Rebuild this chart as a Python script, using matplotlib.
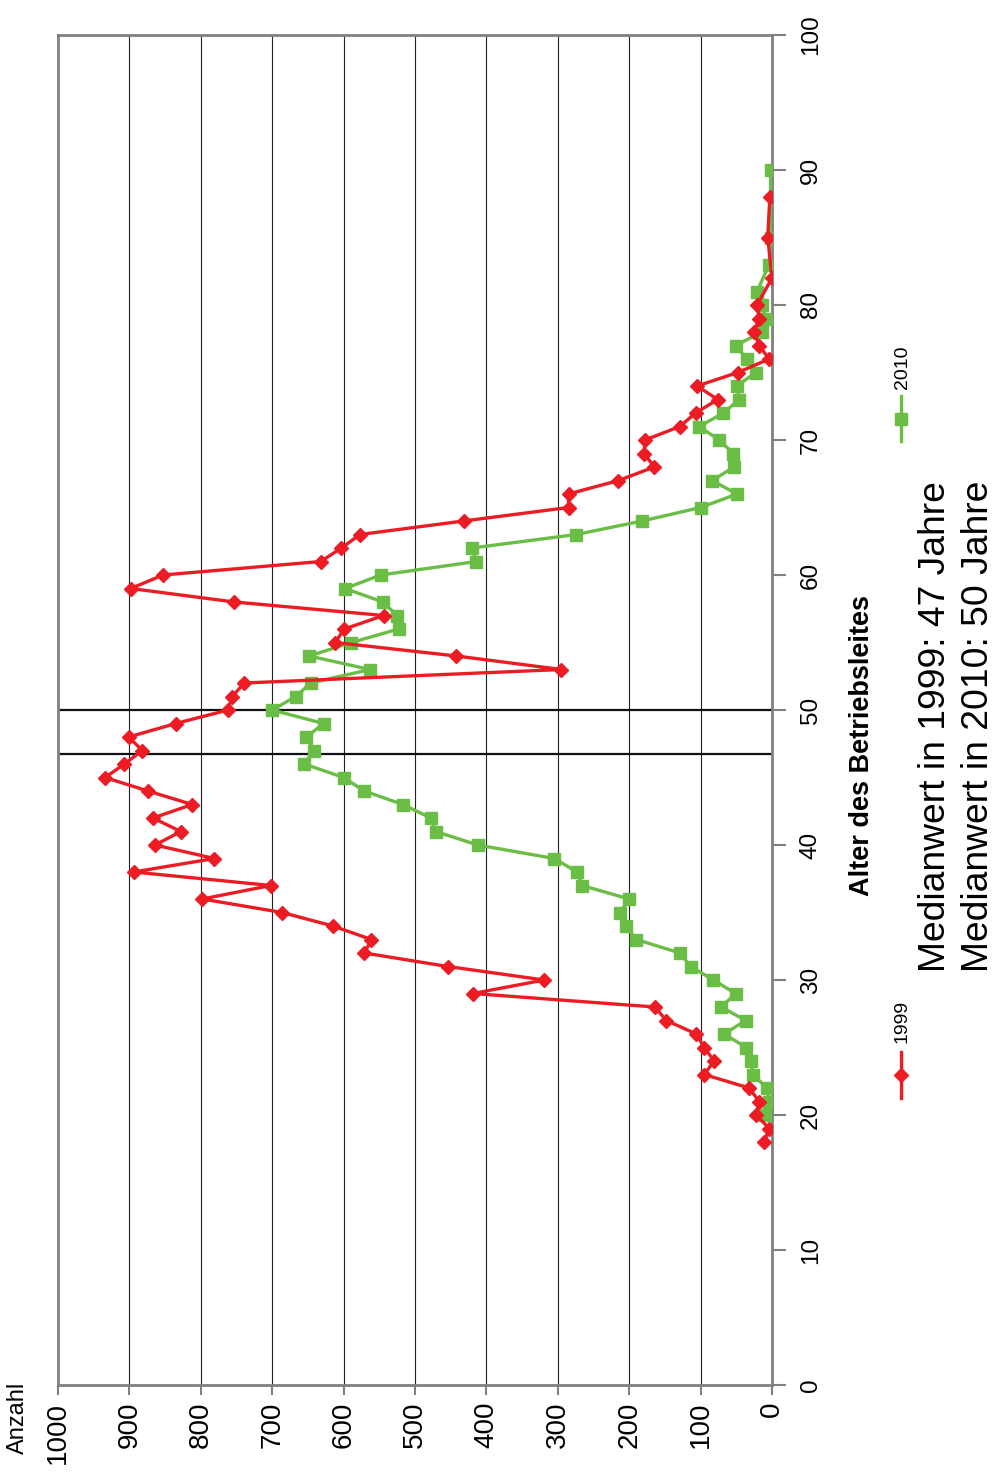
import matplotlib.pyplot as plt
from matplotlib.lines import Line2D

plt.rcParams['font.family'] = ['Liberation Sans', 'DejaVu Sans']

# Alter des Betriebsleiters -> Anzahl
age_1999 = [18, 19, 20, 21, 22, 23, 24, 25, 26, 27, 28, 29, 30, 31, 32, 33, 34, 35,
            36, 37, 38, 39, 40, 41, 42, 43, 44, 45, 46, 47, 48, 49, 50, 51, 52, 53,
            54, 55, 56, 57, 58, 59, 60, 61, 62, 63, 64, 65, 66, 67, 68, 69, 70, 71,
            72, 73, 74, 75, 76, 77, 78, 79, 80, 82, 85, 88]
n_1999 = [11, 4, 22, 18, 32, 95, 81, 95, 106, 148, 164, 419, 319, 454, 571, 561, 615, 686,
          798, 702, 894, 781, 864, 828, 867, 812, 874, 934, 907, 882, 901, 835, 762, 756, 739, 295,
          442, 612, 599, 544, 753, 898, 853, 632, 603, 577, 432, 285, 285, 215, 165, 179, 178, 129,
          107, 76, 105, 48, 4, 18, 25, 18, 21, 0, 6, 3]

age_2010 = [20, 21, 22, 23, 24, 25, 26, 27, 28, 29, 30, 31, 32, 33, 34, 35, 36, 37,
            38, 39, 40, 41, 42, 43, 44, 45, 46, 47, 48, 49, 50, 51, 52, 53, 54, 55,
            56, 57, 58, 59, 60, 61, 62, 63, 64, 65, 66, 67, 68, 69, 70, 71, 72, 73,
            74, 75, 76, 77, 78, 79, 80, 81, 83, 85, 90]
n_2010 = [10, 4, 7, 27, 29, 36, 67, 37, 71, 51, 82, 114, 129, 190, 205, 213, 200, 266,
          273, 305, 412, 471, 478, 517, 571, 600, 655, 641, 652, 628, 700, 667, 646, 563, 648, 589,
          523, 525, 545, 598, 548, 414, 420, 274, 182, 100, 49, 84, 53, 54, 74, 102, 68, 46,
          49, 23, 35, 51, 14, 9, 14, 21, 4, 2, 2]

median_1999 = 46.75
median_2010 = 50

red = '#ED1C24'
green = '#6ABD45'
grey = '#808080'

fig = plt.figure(figsize=(9.97, 14.74), dpi=100)
ax = fig.add_axes([58 / 997, 1 - 1385 / 1474, (772 - 58) / 997, (1385 - 35) / 1474])

ax.set_xlim(1000, 0)
ax.set_ylim(0, 100)

for v in range(100, 1000, 100):
    ax.axvline(v, color='#222222', lw=0.8, zorder=1)

ax.axhline(median_1999, color='#111111', lw=1.6, zorder=2)
ax.axhline(median_2010, color='#111111', lw=1.6, zorder=2)

ax.plot(n_2010, age_2010, color=green, lw=2.4, marker='s', ms=8.5, zorder=3)
ax.plot(n_1999, age_1999, color=red, lw=2.4, marker='D', ms=7, zorder=4)

for s in ax.spines.values():
    s.set_color(grey)
    s.set_linewidth(2)

ax.set_xticks(range(0, 1001, 100))
ax.set_yticks(range(0, 101, 10))
ax.yaxis.tick_right()
ax.tick_params(axis='x', direction='out', length=7, width=1.5, color=grey, labelsize=20,
               labelrotation=90, pad=5)
ax.tick_params(axis='y', direction='out', length=10, width=1.5, color=grey, labelsize=17.5,
               labelrotation=90, pad=10)
for t in ax.get_yticklabels():
    t.set_va('center')

fig.text(18 / 997, 1 - 1418 / 1474, 'Anzahl', rotation=90, ha='center', va='center', fontsize=17)
fig.text(862 / 997, 1 - 746 / 1474, 'Alter des Betriebsleites', rotation=90, ha='center',
         va='center', fontsize=19.5, fontweight='bold')
fig.text(935 / 997, 1 - 972 / 1474, 'Medianwert in 1999: 47 Jahre', rotation=90,
         ha='center', va='bottom', fontsize=26.8)
fig.text(978 / 997, 1 - 972 / 1474, 'Medianwert in 2010: 50 Jahre', rotation=90,
         ha='center', va='bottom', fontsize=26.8)

# legend, drawn rotated
fig.add_artist(Line2D([901 / 997, 901 / 997], [1 - 1098 / 1474, 1 - 1052 / 1474],
                      color=red, lw=2.4))
fig.add_artist(Line2D([901 / 997], [1 - 1075 / 1474], color=red, marker='D', ms=7))
fig.text(902 / 997, 1 - 1043 / 1474, '1999', rotation=90, ha='center', va='bottom', fontsize=14)
fig.add_artist(Line2D([901 / 997, 901 / 997], [1 - 441 / 1474, 1 - 396 / 1474],
                      color=green, lw=2.4))
fig.add_artist(Line2D([901 / 997], [1 - 419 / 1474], color=green, marker='s', ms=8.5))
fig.text(902 / 997, 1 - 389 / 1474, '2010', rotation=90, ha='center', va='bottom', fontsize=14)

fig.savefig('out.png', dpi=100)
